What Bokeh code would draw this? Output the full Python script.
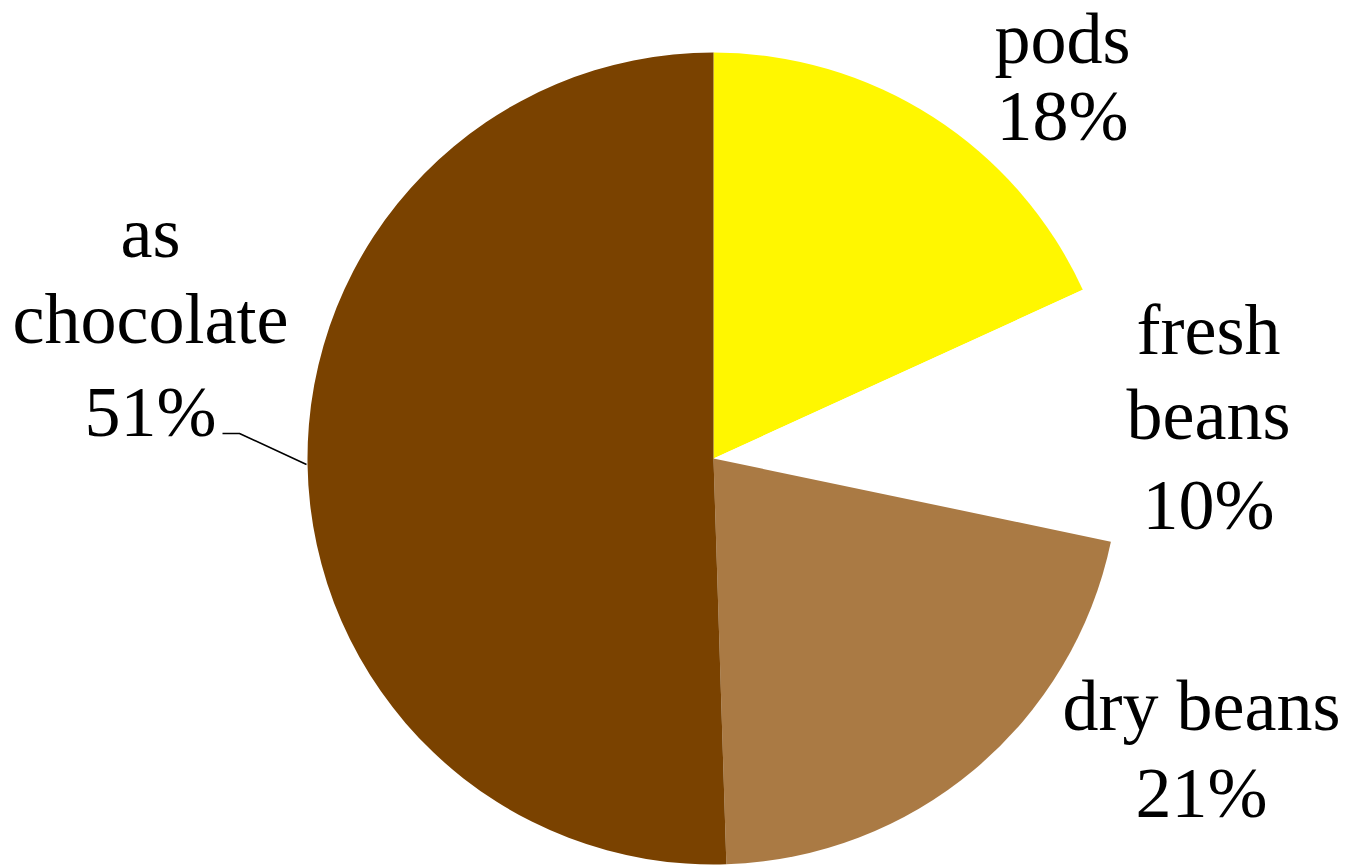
import math
from bokeh.plotting import figure
from bokeh.models import Range1d, ColumnDataSource
from bokeh.core.properties import value
from bokeh.embed import file_html
from bokeh.resources import INLINE

# ---- data ----
categories = ["pods", "fresh beans", "dry beans", "as chocolate"]
shares = [18, 10, 21, 50]            # slice sizes as drawn (angles)
pct_labels = ["18%", "10%", "21%", "51%"]  # percentages as printed
colors = ["#FFF700", "#FFFFFF", "#AA7A44", "#7A4200"]

W, H = 1346, 865
cx, cy, r = 713, H - 458, 406

p = figure(width=W, height=H, output_backend="svg", toolbar_location=None,
           x_range=Range1d(0, W), y_range=Range1d(0, H), min_border=0)
p.axis.visible = False
p.grid.visible = False
p.outline_line_color = None
p.background_fill_color = "white"
p.border_fill_color = "white"

total = float(sum(shares))
starts, ends = [], []
cum = 0.0
for s in shares:
    starts.append(math.pi / 2 - 2 * math.pi * cum / total)
    cum += s
    ends.append(math.pi / 2 - 2 * math.pi * cum / total)

src = ColumnDataSource(dict(x=[cx] * 4, y=[cy] * 4, start=starts, end=ends,
                            color=colors, cat=categories))
p.wedge(x="x", y="y", radius=r, start_angle="start", end_angle="end",
        direction="clock", fill_color="color", line_color=None, source=src)

# label layout: (center x, list of baselines in pixel y) per category
shift = 25
layout = {
    "pods": (1062, [63, 140]),
    "fresh beans": (1208, [354, 439, 529]),
    "dry beans": (1201, [730, 817]),
    "as chocolate": (150, [257, 343, 436]),
}
lines_for = {
    "pods": ["pods"],
    "fresh beans": ["fresh", "beans"],
    "dry beans": ["dry beans"],
    "as chocolate": ["as", "chocolate"],
}
tx, ty, tt = [], [], []
for cat, pct in zip(categories, pct_labels):
    x0, bases = layout[cat]
    texts = lines_for[cat] + [pct]
    for t, b in zip(texts, bases):
        tx.append(x0)
        ty.append(H - (b - shift))
        tt.append(t)

p.text(x=tx, y=ty, text=tt, text_font=value("Liberation Serif"),
       text_font_size="72px", text_align="center", text_baseline="alphabetic",
       text_color="black")

# leader line for chocolate
p.line(x=[222, 239, 306], y=[H - 433, H - 433, H - 464], line_color="black",
       line_width=1.6)

open("out.html", "w").write(file_html(p, INLINE))
